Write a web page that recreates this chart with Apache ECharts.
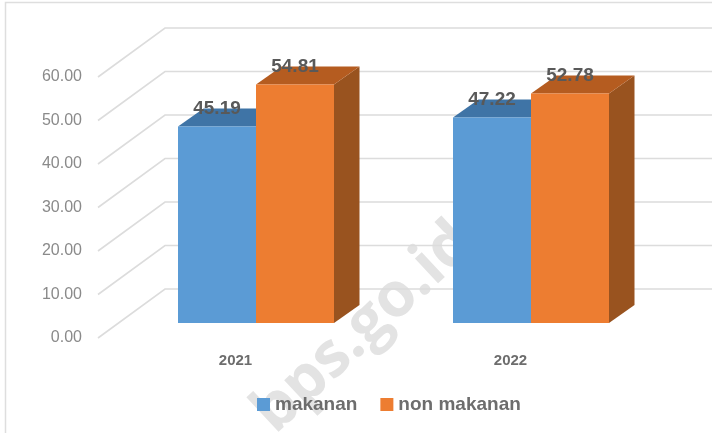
<!DOCTYPE html>
<html lang="en">

<head>
    <meta charset="UTF-8">
    <title>makanan / non makanan</title>
    <script src="https://cdn.jsdelivr.net/npm/echarts@6/dist/echarts.min.js"></script>
    <style>
        html, body { margin: 0; padding: 0; background: #fff; }
    </style>
</head>

<body>
    <div id="main" style="width: 712px;height:433px;"></div>
    <script type="text/javascript">
        // values
        const categories = ['2021', '2022'];
        const makanan = [45.19, 47.22];
        const nonMakanan = [54.81, 52.78];
        const yTicks = [0, 10, 20, 30, 40, 50, 60];

        const fontName = '"Liberation Sans", Arial, sans-serif';

        // fake 3D: how far the back wall and the bars sit behind the front plane, in px
        const wallDx = 67, wallDy = -49;
        const barStartDx = 20.5, barStartDy = -15;
        const barDepthDx = 25.5, barDepthDy = -18;
        const barShare = 78 / 275; // bar width as share of the category band

        function wallItem(params, api) {
            const y = api.coord([0, api.value(1)])[1];
            const x0 = params.coordSys.x;
            const x1 = x0 + params.coordSys.width + wallDx;
            return {
                type: 'polyline',
                shape: { points: [[x0, y], [x0 + wallDx, y + wallDy], [x1, y + wallDy]] },
                style: { fill: null, stroke: '#dcdcdc', lineWidth: 1.6 }
            };
        }

        // side = -1 draws left of band centre, side = 0 right of it
        function barRenderer(side, front, top, right) {
            return function (params, api) {
                const p = api.coord([api.value(0), api.value(1)]);
                const base = api.coord([api.value(0), 0]);
                const w = api.size([1, 0])[0] * barShare;
                const x0 = p[0] + barStartDx + side * w;
                const x1 = x0 + w;
                const yTop = p[1] + barStartDy;
                const yBase = base[1] + barStartDy;
                const dx = barDepthDx, dy = barDepthDy;
                return {
                    type: 'group',
                    children: [
                        {
                            type: 'polygon',
                            shape: { points: [[x1, yTop], [x1 + dx, yTop + dy], [x1 + dx, yBase + dy], [x1, yBase]] },
                            style: { fill: right }
                        },
                        {
                            type: 'polygon',
                            shape: { points: [[x0, yTop], [x0 + dx, yTop + dy], [x1 + dx, yTop + dy], [x1, yTop]] },
                            style: { fill: top }
                        },
                        {
                            type: 'rect',
                            shape: { x: x0, y: yTop, width: w, height: yBase - yTop },
                            style: { fill: front }
                        },
                        {
                            type: 'text',
                            z2: 10,
                            style: {
                                x: (x0 + x1) / 2,
                                y: yTop - 18,
                                text: api.value(1).toFixed(2),
                                align: 'center',
                                verticalAlign: 'middle',
                                fill: '#595959',
                                font: 'bold 19px ' + fontName
                            }
                        }
                    ]
                };
            };
        }

        const options = {
            animation: false,
            backgroundColor: '#fff',
            grid: { left: 98, right: 64, top: 77, bottom: 95 },
            legend: {
                left: 257,
                top: 395,
                padding: 0,
                icon: 'rect',
                itemWidth: 13,
                itemHeight: 13,
                itemGap: 23,
                data: ['makanan', 'non makanan'],
                textStyle: { color: '#6d6d6d', fontFamily: fontName, fontWeight: 'bold', fontSize: 19 }
            },
            xAxis: {
                type: 'category',
                data: categories,
                axisLine: { show: false },
                axisTick: { show: false },
                axisLabel: { color: '#6d6d6d', fontFamily: fontName, fontWeight: 'bold', fontSize: 15, margin: 15 }
            },
            yAxis: {
                type: 'value',
                min: 0,
                max: 60,
                interval: 10,
                axisLine: { show: false },
                axisTick: { show: false },
                splitLine: { show: false },
                axisLabel: {
                    color: '#8a8a8a',
                    fontFamily: fontName,
                    fontSize: 16,
                    margin: 16,
                    padding: [3, 0, 0, 0],
                    formatter: (v) => v.toFixed(2)
                }
            },
            graphic: [
                {
                    type: 'polyline',
                    z: 1,
                    shape: { points: [[5.5, 433], [5.5, 2.5], [712, 2.5]] },
                    style: { fill: null, stroke: '#dedede', lineWidth: 1.5 }
                },
                {
                    type: 'text',
                    z: 1,
                    x: 364,
                    y: 328,
                    rotation: 43 * Math.PI / 180,
                    style: {
                        text: 'bps.go.id',
                        align: 'center',
                        verticalAlign: 'middle',
                        fill: '#e3e3e3',
                        font: 'bold 62px "Open Sans", "Liberation Sans", sans-serif'
                    }
                }
            ],
            series: [
                {
                    name: 'wall',
                    type: 'custom',
                    clip: false,
                    silent: true,
                    z: 2,
                    data: yTicks.map((v) => [0, v]),
                    encode: { x: 0, y: 1 },
                    renderItem: wallItem
                },
                {
                    name: 'makanan',
                    type: 'custom',
                    clip: false,
                    z: 3,
                    itemStyle: { color: '#5b9bd5' },
                    data: makanan.map((v, i) => [i, v]),
                    encode: { x: 0, y: 1 },
                    renderItem: barRenderer(-1, '#5b9bd5', '#3f74a6', '#35628c')
                },
                {
                    name: 'non makanan',
                    type: 'custom',
                    clip: false,
                    z: 4,
                    itemStyle: { color: '#ed7d31' },
                    data: nonMakanan.map((v, i) => [i, v]),
                    encode: { x: 0, y: 1 },
                    renderItem: barRenderer(0, '#ed7d31', '#b55c20', '#99531f')
                }
            ]
        };

        const myChart = echarts.init(document.getElementById('main'));
        myChart.setOption(options);
    </script>
</body>

</html>
